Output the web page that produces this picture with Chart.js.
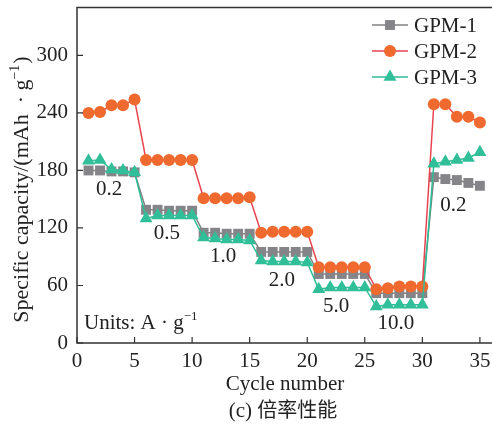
<!DOCTYPE html>
<html>
<head>
<meta charset="utf-8">
<script src="https://cdn.jsdelivr.net/npm/chart.js@4/dist/chart.umd.min.js"></script>
<style>
  html, body { margin: 0; padding: 0; background: #fff; }
  #wrap { width: 492px; height: 424px; }
</style>
</head>
<body>
<div id="wrap"><canvas id="rateChart" width="492" height="424"></canvas></div>
<script>
'use strict';

// cycle numbers
var cycles = [1,2,3,4,5,6,7,8,9,10,11,12,13,14,15,16,17,18,19,20,21,22,23,24,25,26,27,28,29,30,31,32,33,34,35];
// specific capacity, mAh/g
var gpm1 = [180,180,179,179,178, 139,139,138,138,138, 115,115,114,114,114, 95,95,95,95,95, 72,72,72,72,72, 52,52,52,52,52, 173,171,170,167,164];
var gpm2 = [240,241,248,248,254, 191,191,191,191,191, 151,151,151,151,152, 115,116,116,116,116, 79,79,79,79,79, 56,57,59,59,59, 249,249,236,236,230];
var gpm3 = [190,191,181,180,178, 130,133,133,133,133, 110,109,108,108,107, 86,85,85,85,84, 56,58,58,58,58, 38,40,40,40,40, 187,189,191,193,199];
var seriesNames = ['GPM-1', 'GPM-2', 'GPM-3'];
// current density labels (A/g) and where they sit (cycle, capacity)
var rateLabels = ['0.2', '0.5', '1.0', '2.0', '5.0', '10.0', '0.2'];
var rateLabelX = [2.8, 7.8, 12.7, 17.8, 22.5, 27.7, 32.7];
var rateLabelY = [160, 114, 90, 65, 38, 20, 143];
var yTicks = [0, 60, 120, 180, 240, 300];
var xTicks = [0, 5, 10, 15, 20, 25, 30, 35];

var FONT = '"Liberation Serif", "Times New Roman", serif';
var AXIS = '#333333';

function pts(ys) {
    return ys.map(function (v, i) { return { x: cycles[i], y: v }; });
}

var styles = [
    { line: '#808080', fill: '#858589', shape: 'rect', r: 7 },
    { line: '#e84450', fill: '#f0692f', shape: 'circle', r: 6 },
    { line: '#2ebd96', fill: '#30bf98', shape: 'triangle', r: 7.5 }
];

function marker(ctx, shape, x, y, r) {
    ctx.beginPath();
    if (shape === 'circle') {
        ctx.arc(x, y, r, 0, Math.PI * 2);
    } else if (shape === 'rect') {
        var s = r * Math.SQRT1_2;
        ctx.rect(x - s, y - s, 2 * s, 2 * s);
    } else {
        ctx.moveTo(x, y - r);
        ctx.lineTo(x + Math.sin(2 * Math.PI / 3) * r, y + r / 2);
        ctx.lineTo(x - Math.sin(2 * Math.PI / 3) * r, y + r / 2);
        ctx.closePath();
    }
    ctx.fill();
}

// text with a superscript part, e.g. g^-1, and an optional tail
function supText(ctx, base, sup, tail, x, y, size, align) {
    var small = Math.round(size * 0.62) + 'px ' + FONT;
    var big = size + 'px ' + FONT;
    ctx.font = big;
    var w1 = ctx.measureText(base).width;
    var w3 = ctx.measureText(tail).width;
    ctx.font = small;
    var w2 = ctx.measureText(sup).width;
    var x0 = align === 'center' ? x - (w1 + w2 + w3) / 2 : x;
    ctx.textAlign = 'left';
    ctx.textBaseline = 'alphabetic';
    ctx.font = big;
    ctx.fillText(base, x0, y);
    ctx.fillText(tail, x0 + w1 + w2 + 1, y);
    ctx.font = small;
    ctx.fillText(sup, x0 + w1, y - size * 0.42);
}

var decor = {
    id: 'decor',
    afterDatasetsDraw: function (chart) {
        var ctx = chart.ctx, a = chart.chartArea;
        var xs = chart.scales.x, ys = chart.scales.y;
        ctx.save();
        // frame
        ctx.strokeStyle = AXIS;
        ctx.lineWidth = 1.5;
        ctx.beginPath();
        ctx.moveTo(492, a.top);
        ctx.lineTo(a.left, a.top);
        ctx.lineTo(a.left, a.bottom);
        ctx.lineTo(492, a.bottom);
        ctx.stroke();
        // inward ticks
        ctx.lineWidth = 1.2;
        ctx.beginPath();
        xTicks.forEach(function (t) {
            var px = xs.getPixelForValue(t);
            ctx.moveTo(px, a.bottom);
            ctx.lineTo(px, a.bottom - 6);
        });
        yTicks.forEach(function (t) {
            var py = ys.getPixelForValue(t);
            ctx.moveTo(a.left, py);
            ctx.lineTo(a.left + 6, py);
        });
        ctx.stroke();

        ctx.fillStyle = '#222';
        // rate labels
        ctx.font = '21px ' + FONT;
        ctx.textAlign = 'center';
        ctx.textBaseline = 'middle';
        rateLabels.forEach(function (t, i) {
            ctx.fillText(t, xs.getPixelForValue(rateLabelX[i]), ys.getPixelForValue(rateLabelY[i]));
        });
        supText(ctx, 'Units: A \u00b7 g', '\u22121', '', a.left + 7, 329, 21, 'left');

        // legend
        ctx.font = '21px ' + FONT;
        ctx.textAlign = 'left';
        ctx.textBaseline = 'middle';
        seriesNames.forEach(function (n, i) {
            var y = 25 + i * 26, st = styles[i];
            ctx.strokeStyle = st.line;
            ctx.lineWidth = 1.5;
            ctx.beginPath();
            ctx.moveTo(372, y);
            ctx.lineTo(408, y);
            ctx.stroke();
            ctx.fillStyle = st.fill;
            marker(ctx, st.shape, 390, y, st.r);
            ctx.fillStyle = '#222';
            ctx.fillText(n, 414, y + 1);
        });

        // axis titles and caption
        ctx.textAlign = 'center';
        ctx.font = '21px ' + FONT;
        ctx.fillText('Cycle number', 285, 384);
        ctx.textBaseline = 'alphabetic';
        var cap1 = '(c) ';
        ctx.font = '21px ' + FONT;
        var w1 = ctx.measureText(cap1).width;
        ctx.font = '20px "Noto Sans CJK SC"';
        var w2 = ctx.measureText('\u500d\u7387\u6027\u80fd').width;
        var cx = 283 - (w1 + w2) / 2;
        ctx.textAlign = 'left';
        ctx.font = '21px ' + FONT;
        ctx.fillText(cap1, cx, 417);
        ctx.font = '20px "Noto Sans CJK SC"';
        ctx.fillText('\u500d\u7387\u6027\u80fd', cx + w1, 417);

        ctx.translate(21, 190);
        ctx.rotate(-Math.PI / 2);
        supText(ctx, 'Specific capacity/(mAh\u2002\u00b7 g', '\u22121', ')', 0, 7, 22, 'center');
        ctx.restore();
    }
};

function ds(i, ys) {
    var st = styles[i];
    return {
        label: seriesNames[i],
        data: pts(ys),
        borderColor: st.line,
        borderWidth: 1.5,
        backgroundColor: st.fill,
        pointStyle: st.shape,
        pointRadius: st.r,
        pointBackgroundColor: st.fill,
        pointBorderWidth: 0,
        tension: 0,
        order: 3 - i
    };
}

var ctx1 = document.getElementById('rateChart').getContext('2d');
var chart1 = new Chart(ctx1, {
    type: 'line',
    data: { datasets: [ds(0, gpm1), ds(1, gpm2), ds(2, gpm3)] },
    options: {
        responsive: false,
        animation: false,
        clip: false,
        layout: { padding: { top: 7, left: 0, right: 0, bottom: 0 } },
        plugins: { legend: { display: false }, tooltip: { enabled: false } },
        scales: {
            x: {
                type: 'linear', min: 0, max: 35.4,
                grid: { display: false, drawTicks: false },
                border: { display: false },
                ticks: { stepSize: 5, includeBounds: false, padding: 6, color: '#222', font: { family: FONT, size: 21 }, maxRotation: 0 },
                afterFit: function (s) { s.height = 81; s.paddingLeft = 0; s.paddingRight = 0; }
            },
            y: {
                min: 0, max: 350,
                grid: { display: false, drawTicks: false },
                border: { display: false },
                ticks: { stepSize: 60, padding: 9, color: '#222', font: { family: FONT, size: 21 },
                    callback: function (v) { return yTicks.indexOf(v) >= 0 ? v : ''; } },
                afterFit: function (s) { s.width = 77; s.paddingTop = 0; s.paddingBottom = 0; }
            }
        }
    },
    plugins: [decor]
});
</script>
</body>
</html>
